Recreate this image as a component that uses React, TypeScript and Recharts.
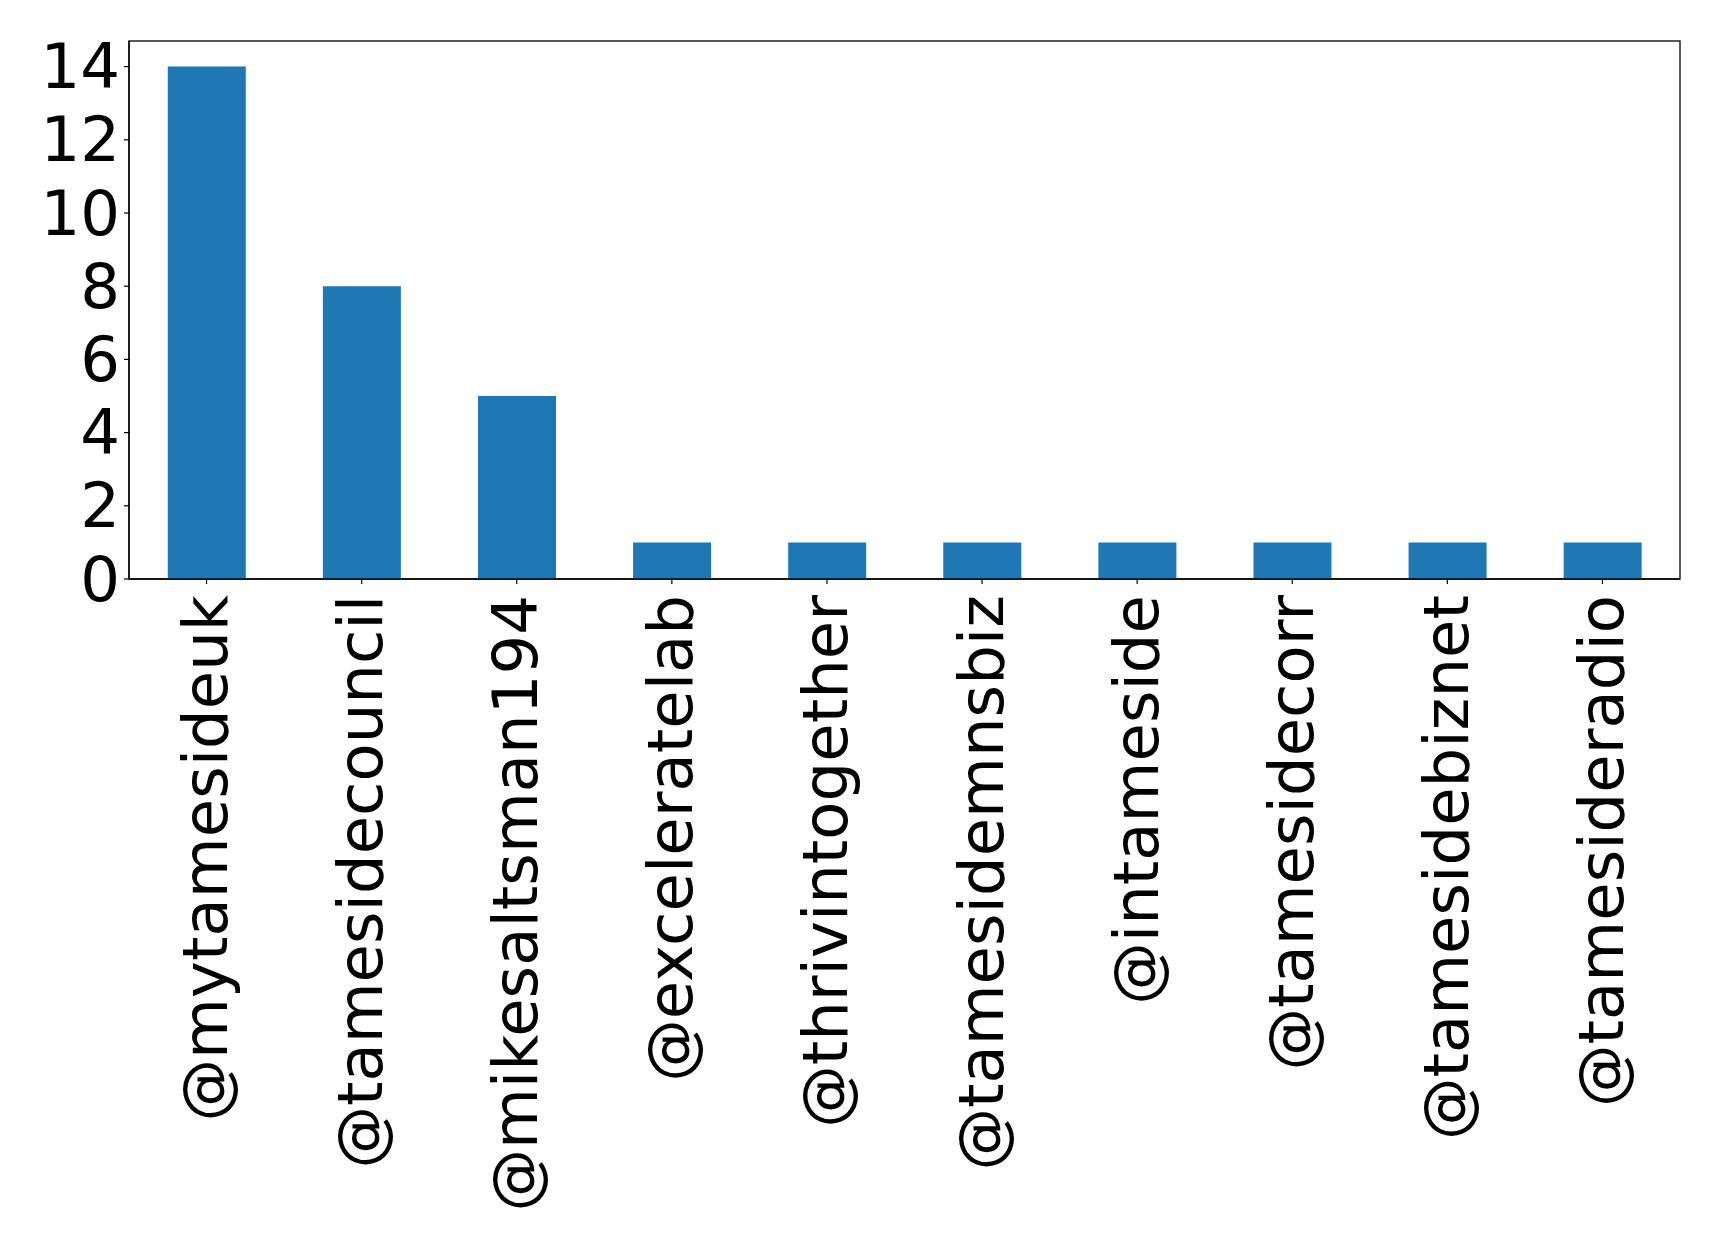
import React from 'react';
import * as Recharts from 'recharts';
import { BarChart, Bar, XAxis, YAxis } from 'recharts';

const accounts = [
  '@mytamesideuk',
  '@tamesidecouncil',
  '@mikesaltsman194',
  '@exceleratelab',
  '@thrivintogether',
  '@tamesidemnsbiz',
  '@intameside',
  '@tamesidecorr',
  '@tamesidebiznet',
  '@tamesideradio',
];
const counts = [14, 8, 5, 1, 1, 1, 1, 1, 1, 1];
const yTicks = [0, 2, 4, 6, 8, 10, 12, 14];

const data = accounts.map((name, i) => ({ name, count: counts[i] }));

const FONT = 'DejaVu Sans';
const FS = 62.5;
const MARGIN = { top: 41, right: 39, bottom: 0, left: 0 };
const CHART_W = 1719;
const CHART_H = 1244;
const Y_W = 129;
const X_H = 665;

const XTick = (props: any) => {
  const { x, y, payload } = props;
  return (
    <text
      transform={`translate(${x - 1},${y}) rotate(-90)`}
      textAnchor="end"
      dominantBaseline="central"
      fontFamily={FONT}
      fontSize={FS}
      fill="#000"
    >
      {payload.value}
    </text>
  );
};

const YTick = (props: any) => {
  const { x, y, payload } = props;
  return (
    <text
      x={x}
      y={y}
      textAnchor="end"
      dominantBaseline="central"
      fontFamily={FONT}
      fontSize={FS}
      fill="#000"
    >
      {payload.value}
    </text>
  );
};

const usePA: any = (Recharts as any).usePlotArea;

const Frame = () => {
  let pa: any = null;
  if (usePA) pa = usePA();
  if (!pa) {
    pa = {
      x: MARGIN.left + Y_W,
      y: MARGIN.top,
      width: CHART_W - MARGIN.left - MARGIN.right - Y_W,
      height: CHART_H - MARGIN.top - MARGIN.bottom - X_H,
    };
  }
  return (
    <rect
      x={pa.x}
      y={pa.y}
      width={pa.width}
      height={pa.height}
      fill="none"
      stroke="#000"
      strokeWidth={1.3}
    />
  );
};

export default function App() {
  return (
    <div style={{ position: 'absolute', left: 0, top: 0, width: CHART_W, height: CHART_H, background: '#fff' }}>
      <BarChart
        width={CHART_W}
        height={CHART_H}
        data={data}
        margin={MARGIN}
        barCategoryGap="25%"
      >
        <XAxis
          dataKey="name"
          interval={0}
          height={X_H}
          tick={<XTick />}
          tickSize={5}
          tickMargin={11}
          axisLine={{ stroke: '#000', strokeWidth: 1.3 }}
          tickLine={{ stroke: '#000', strokeWidth: 1.2 }}
        />
        <YAxis
          width={Y_W}
          domain={[0, 14.7]}
          ticks={yTicks}
          interval={0}
          tick={<YTick />}
          tickSize={5}
          tickMargin={4}
          axisLine={{ stroke: '#000', strokeWidth: 1.3 }}
          tickLine={{ stroke: '#000', strokeWidth: 1.2 }}
        />
        <Bar dataKey="count" fill="#1f77b4" isAnimationActive={false} />
        <Frame />
      </BarChart>
    </div>
  );
}
